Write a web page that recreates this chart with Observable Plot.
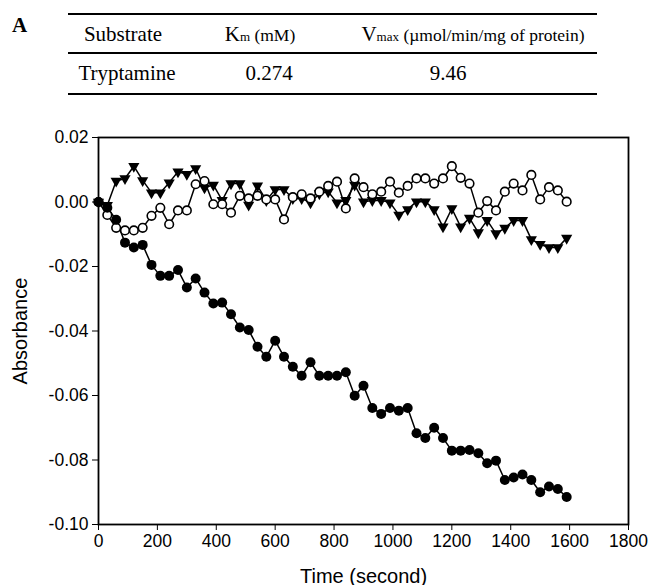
<!DOCTYPE html>
<html><head><meta charset="utf-8">
<script src="https://cdn.jsdelivr.net/npm/d3@7"></script>
<script src="https://cdn.jsdelivr.net/npm/@observablehq/plot@0.6"></script>
<style>
body{margin:0;background:#fff;}
#wrap{position:relative;width:649px;height:585px;overflow:hidden;font-family:"Liberation Serif","Times New Roman",serif;color:#000;background:#fff;}
.abs{position:absolute;white-space:nowrap;line-height:1;}
.rule{position:absolute;left:68px;width:529px;background:#000;}
.panel{font-weight:bold;font-size:21px;}
.cell{font-size:21px;}
.sm{font-size:13px;}
.md{font-size:17.5px;}
#chart{position:absolute;left:0;top:110px;}
</style></head><body>
<div id="wrap">
  <div class="abs panel" style="left:12px;top:15px">A</div>
  <div class="rule" style="top:13px;height:2.2px"></div>
  <div class="rule" style="top:52px;height:1.6px"></div>
  <div class="rule" style="top:93px;height:2.2px"></div>
  <div id="table"></div>
  <div class="abs panel" style="left:12px;top:128px">B</div>
  <div id="chart"></div>
</div>
<script>
// ---- Table (panel A) ----
const tableHeaders = ["Substrate", "K<span class='sm'>m</span><span class='md'> (mM)</span>", "V<span class='sm'>max</span><span class='md'> (\u00b5mol/min/mg of protein)</span>"];
const substrates = ["Tryptamine"];
const kmValues = ["0.274"];
const vmaxValues = ["9.46"];

// ---- Kinetic traces (panel B) ----
const timeSec = [0,30,60,90,120,150,180,210,240,270,300,330,360,390,420,450,480,510,540,570,600,630,660,690,720,750,780,810,840,870,900,930,960,990,1020,1050,1080,1110,1140,1170,1200,1230,1260,1290,1320,1350,1380,1410,1440,1470,1500,1530,1560,1590];
const filledCircle = [0,-0.0018,-0.0055,-0.0126,-0.0141,-0.0133,-0.0195,-0.0229,-0.0229,-0.0211,-0.0265,-0.0237,-0.0281,-0.0315,-0.0312,-0.0348,-0.0389,-0.0397,-0.0449,-0.048,-0.043,-0.048,-0.0511,-0.0539,-0.0497,-0.0539,-0.0539,-0.0539,-0.0528,-0.0601,-0.057,-0.0639,-0.0657,-0.0639,-0.0647,-0.0639,-0.0717,-0.0732,-0.070,-0.0732,-0.0771,-0.0771,-0.0769,-0.0779,-0.081,-0.0802,-0.0862,-0.0854,-0.0845,-0.0862,-0.090,-0.0882,-0.089,-0.0915];
const openCircle = [0,-0.004,-0.008,-0.0088,-0.0088,-0.008,-0.0043,-0.0018,-0.0069,-0.0026,-0.0026,0.0055,0.0065,-0.0007,-0.0007,-0.0033,0.0019,0.0011,0.0019,0.0008,0.0008,-0.0054,0.0015,0.0024,0.0011,0.0032,0.005,0.0063,-0.002,0.0073,0.0046,0.0024,0.0032,0.0063,0.0029,0.005,0.0073,0.0073,0.0057,0.0073,0.0111,0.0075,0.0057,-0.0033,0.0003,-0.0026,0.0032,0.0057,0.0036,0.0084,0.0008,0.0046,0.0036,0.0001];
const triangleDown = [0,-0.001,0.0065,0.0073,0.0111,0.0067,0.0029,0.0029,0.006,0.0094,0.0086,0.0104,0.0044,0.0053,0.0005,0.0057,0.0057,-0.0009,0.005,0.0005,0.0039,0.0039,0.0011,0.0011,-0.0002,0.0026,0.0032,-0.0002,0.0005,0.0053,0.0001,0.0005,0.0005,-0.0002,-0.004,-0.0023,0.0001,0.0001,-0.0023,-0.0077,-0.002,-0.0077,-0.005,-0.0095,-0.0057,-0.0098,-0.0081,-0.0057,-0.0057,-0.0116,-0.0131,-0.0141,-0.0141,-0.0112];
const xTicks = [0,200,400,600,800,1000,1200,1400,1600,1800];
const yTicks = [0.02,0.00,-0.02,-0.04,-0.06,-0.08,-0.10];

// build table
const tbl = document.getElementById("table");
const colCenters = [123, 260, 473];
const valCenters = [127, 269, 448];
function place(html, cx, top) {
  const d = document.createElement("div");
  d.className = "abs cell";
  d.innerHTML = html;
  d.style.top = top + "px";
  d.style.left = "0px";
  tbl.appendChild(d);
  const w = d.getBoundingClientRect().width;
  d.style.left = (cx - w / 2) + "px";
}
tableHeaders.forEach((h, i) => place(h, colCenters[i], 24));
substrates.forEach((s, r) => {
  place(s, valCenters[0], 62.5 + r * 40);
  place(kmValues[r], valCenters[1], 62.5 + r * 40);
  place(vmaxValues[r], valCenters[2], 62.5 + r * 40);
});

// data tables
const filledData = timeSec.map((t, i) => ({t, v: filledCircle[i]}));
const openData = timeSec.map((t, i) => ({t, v: openCircle[i]}));
const triData = timeSec.map((t, i) => ({t, v: triangleDown[i]}));

const triDownSymbol = {
  draw(ctx, size) {
    const r = Math.sqrt(size / Math.PI);
    const w = r * 1.0, h = r * 1.75;
    ctx.moveTo(-w, -h / 3);
    ctx.lineTo(w, -h / 3);
    ctx.lineTo(0, 2 * h / 3);
    ctx.closePath();
  }
};

const chart = Plot.plot({
  width: 649,
  height: 475,
  marginLeft: 98,
  marginRight: 21,
  marginTop: 27,
  marginBottom: 61,
  style: {fontFamily: "'Liberation Sans', Arial, sans-serif", fontSize: "17.5px", background: "#fff", color: "#000", overflow: "visible"},
  x: {domain: [0, 1800], ticks: xTicks, tickFormat: d => String(d), label: "Time (second)", labelAnchor: "center", labelOffset: 58, labelArrow: false, tickSize: 6, tickPadding: 4},
  y: {domain: [-0.10, 0.02], ticks: yTicks, tickFormat: d => d.toFixed(2), label: "Absorbance", labelAnchor: "center", labelOffset: 86, labelArrow: false, tickSize: 6, tickPadding: 4},
  marks: [
    Plot.frame({stroke: "#000", strokeWidth: 1.8}),
    Plot.line(triData, {x: "t", y: "v", stroke: "#000", strokeWidth: 1.5}),
    Plot.line(openData, {x: "t", y: "v", stroke: "#000", strokeWidth: 1.5}),
    Plot.line(filledData, {x: "t", y: "v", stroke: "#000", strokeWidth: 1.5}),
    Plot.dot(triData, {x: "t", y: "v", symbol: triDownSymbol, r: 5.6, fill: "#000", stroke: "none"}),
    Plot.dot(openData, {x: "t", y: "v", r: 4.3, fill: "#fff", stroke: "#000", strokeWidth: 1.6}),
    Plot.dot(filledData, {x: "t", y: "v", r: 5, fill: "#000", stroke: "none"})
  ]
});
chart.querySelectorAll("g[aria-label='x-axis label'] text, g[aria-label='y-axis label'] text").forEach(t => t.setAttribute("font-size", "20px"));
document.getElementById("chart").appendChild(chart);
</script>
</body></html>
